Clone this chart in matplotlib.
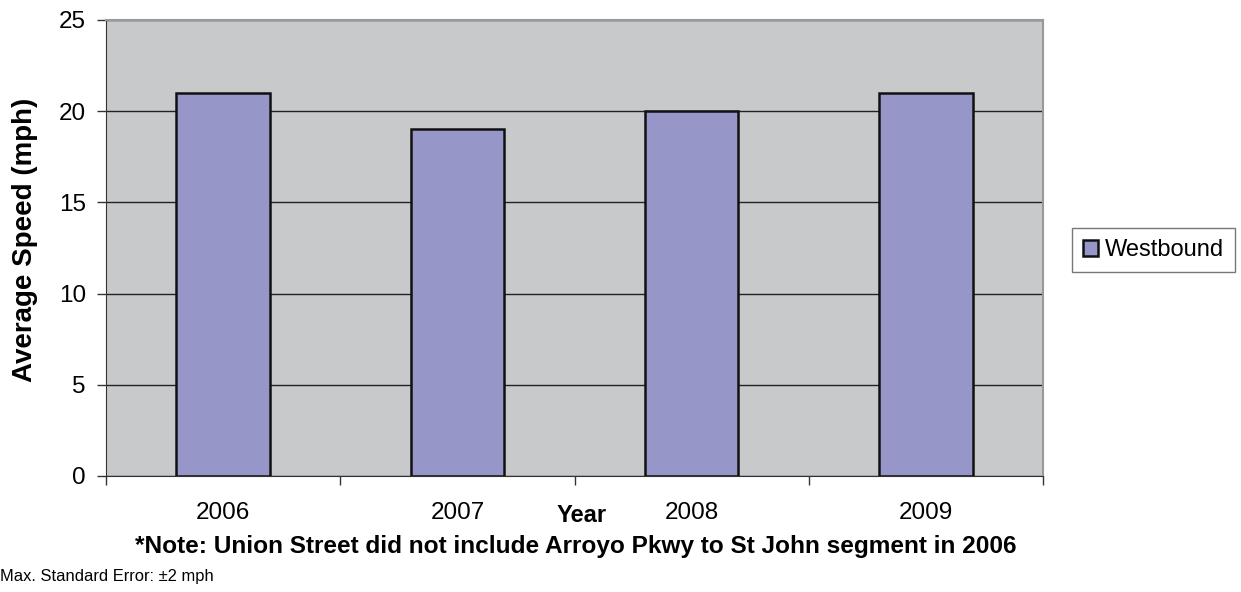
import matplotlib.pyplot as plt
import numpy as np

plt.rcParams['font.family'] = ['Liberation Sans', 'DejaVu Sans']

years = ["2006", "2007", "2008", "2009"]
westbound = [21, 19, 20, 21]
y_ticks = [0, 5, 10, 15, 20, 25]

fig = plt.figure(figsize=(12.41, 5.92), dpi=100)
ax = fig.add_axes([106 / 1241, 1 - 476 / 592, (1043 - 106) / 1241, (476 - 20) / 592])
ax.set_facecolor("#C8C9CB")

x = np.arange(len(years))
ax.bar(x, westbound, width=0.4, color="#9696C8", edgecolor="#111111",
       linewidth=1.8, label="Westbound", zorder=3)

ax.set_xlim(-0.5, len(years) - 0.5)
ax.set_ylim(0, 25)
ax.set_yticks(y_ticks)
ax.yaxis.grid(True, color="#222222", linewidth=1.0, zorder=1)
ax.set_axisbelow(True)

# ticks on x sit between categories, labels at centres
ax.set_xticks(np.arange(len(years) + 1) - 0.5)
ax.set_xticklabels([])
ax.set_xticks(x, minor=True)
ax.set_xticklabels(years, minor=True)
ax.tick_params(axis="x", which="minor", length=0, pad=19, labelsize=17.5)
ax.tick_params(axis="x", which="major", length=6.5, width=1, color="#333333")
ax.tick_params(axis="y", length=6.5, width=1, color="#333333", labelsize=17.5, pad=8)

for side in ["top", "right"]:
    ax.spines[side].set_color("#999999")
    ax.spines[side].set_linewidth(1.5)
ax.spines["left"].set_color("#333333")
ax.spines["bottom"].set_color("#333333")

fig.text(25 / 1241, 1 - 240 / 592, "Average Speed (mph)", fontsize=20,
         fontweight="bold", rotation=90, ha="center", va="center")
fig.text(582 / 1241, 1 - 515 / 592, "Year", fontsize=17, fontweight="bold",
         ha="center", va="center")
fig.text(576 / 1241, 1 - 546 / 592,
         "*Note: Union Street did not include Arroyo Pkwy to St John segment in 2006",
         fontsize=17.6, fontweight="bold", ha="center", va="center")
fig.text(0.0, 1 - 577 / 592, "Max. Standard Error: \u00b12 mph", fontsize=11.9,
         ha="left", va="center")

leg = fig.legend(loc="center left", bbox_to_anchor=(1072 / 1241, 1 - 250 / 592),
                 fontsize=17, frameon=True, fancybox=False, handlelength=0.65,
                 handleheight=0.65, handletextpad=0.3, borderpad=0.45,
                 borderaxespad=0)
leg.get_frame().set_edgecolor("#555555")
leg.get_frame().set_linewidth(1.0)

fig.savefig("out.png", dpi=100)
